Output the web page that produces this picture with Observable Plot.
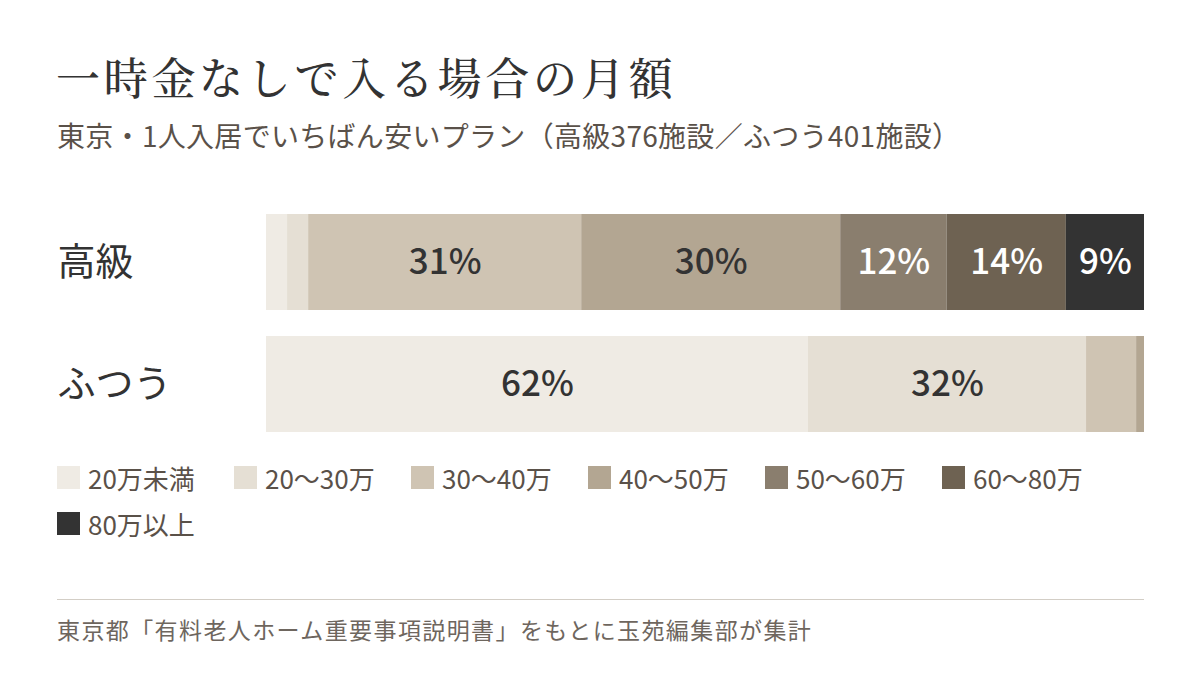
<!DOCTYPE html>
<html lang="ja">
<head>
<meta charset="utf-8">
<script src="https://cdn.jsdelivr.net/npm/d3@7"></script>
<script src="https://cdn.jsdelivr.net/npm/@observablehq/plot@0.6"></script>
<style>
  html, body { margin: 0; padding: 0; background: #ffffff; }
  body { width: 1200px; height: 675px; position: relative; overflow: hidden;
         font-family: "Noto Sans CJK JP", "Noto Sans", sans-serif; }
  #title { position: absolute; left: 56px; top: 50px; margin: 0;
           font-family: "Noto Serif CJK JP", "Noto Serif JP", "IPAMincho", serif;
           font-weight: 500; font-size: 44px; line-height: 52px; letter-spacing: 3.7px; color: #333333; }
  #subtitle { position: absolute; left: 57px; top: 115px; margin: 0;
              font-size: 28px; line-height: 40px; letter-spacing: 0.3px; color: #5a5149; }
  #chart { position: absolute; left: 0; top: 214px; }
  #legend { position: absolute; left: 57px; top: 454px; width: 1090px;
            display: flex; flex-wrap: wrap; }
  .item { width: 177px; height: 46px; display: flex; align-items: center; }
  .sw { width: 23px; height: 23px; margin-right: 8px; flex: none; }
  .lab { font-size: 26px; color: #5a5149; white-space: nowrap; }
  #rule { position: absolute; left: 57px; top: 599px; width: 1087px; height: 0;
          border-top: 1px solid #d3cec6; }
  #source { position: absolute; left: 57px; top: 612px; font-size: 23px; line-height: 34px;
            color: #6e665e; letter-spacing: 1.4px; white-space: nowrap; }
</style>
</head>
<body>
<h1 id="title">一時金なしで入る場合の月額</h1>
<p id="subtitle">東京・1人入居でいちばん安いプラン（高級376施設／ふつう401施設）</p>
<div id="chart"></div>
<div id="legend"></div>
<div id="rule"></div>
<div id="source">東京都「有料老人ホーム重要事項説明書」をもとに玉苑編集部が集計</div>
<script>
// ---- data ----
const categories = ["高級", "ふつう"];
const brackets = ["20万未満", "20〜30万", "30〜40万", "40〜50万", "50〜60万", "60〜80万", "80万以上"];
const colors = ["#efebe4", "#e5dfd4", "#cfc4b3", "#b3a692", "#8a7e6e", "#6e6252", "#333333"];
const koukyuShares = [2.4, 2.4, 31.1, 29.5, 12.1, 13.6, 8.9];
const futsuuShares = [61.7, 31.7, 5.7, 0.9, 0, 0, 0];
const whiteLabelBrackets = ["50〜60万", "60〜80万", "80万以上"];
const labelMin = 8.5;

const data = [];
[koukyuShares, futsuuShares].forEach((shares, i) => {
  brackets.forEach((b, j) => data.push({category: categories[i], bracket: b, share: shares[j]}));
});

const labelText = (d) => d.share >= labelMin ? Math.round(d.share) + "%" : null;

const chart = Plot.plot({
  width: 1200,
  height: 218,
  marginTop: 0,
  marginBottom: 0,
  marginLeft: 266,
  marginRight: 56,
  style: {fontFamily: "'Noto Sans CJK JP', sans-serif", background: "transparent", overflow: "visible"},
  x: {domain: [0, 100], axis: null},
  y: {domain: categories, axis: null, paddingInner: 26 / 122, paddingOuter: 0},
  color: {domain: brackets, range: colors},
  marks: [
    Plot.barX(data, Plot.stackX({x: "share", y: "category", fill: "bracket", z: "bracket", order: brackets})),
    Plot.text(data, Plot.stackX({
      x: "share", y: "category", z: "bracket", order: brackets,
      text: (d) => whiteLabelBrackets.includes(d.bracket) ? null : labelText(d),
      fill: "#333333", fontSize: 35, fontWeight: 500
    })),
    Plot.text(data, Plot.stackX({
      x: "share", y: "category", z: "bracket", order: brackets,
      text: (d) => whiteLabelBrackets.includes(d.bracket) ? labelText(d) : null,
      fill: "#ffffff", fontSize: 35, fontWeight: 500
    })),
    Plot.text(categories, {
      y: (d) => d, text: (d) => d, frameAnchor: "left", dx: 57 - 266,
      textAnchor: "start", fontSize: 38, fill: "#333333"
    })
  ]
});
document.getElementById("chart").appendChild(chart);

// ---- legend ----
const legend = document.getElementById("legend");
brackets.forEach((b, i) => {
  const item = document.createElement("div");
  item.className = "item";
  const sw = document.createElement("span");
  sw.className = "sw";
  sw.style.background = colors[i];
  const lab = document.createElement("span");
  lab.className = "lab";
  lab.textContent = b;
  item.appendChild(sw);
  item.appendChild(lab);
  legend.appendChild(item);
});
</script>
</body>
</html>
